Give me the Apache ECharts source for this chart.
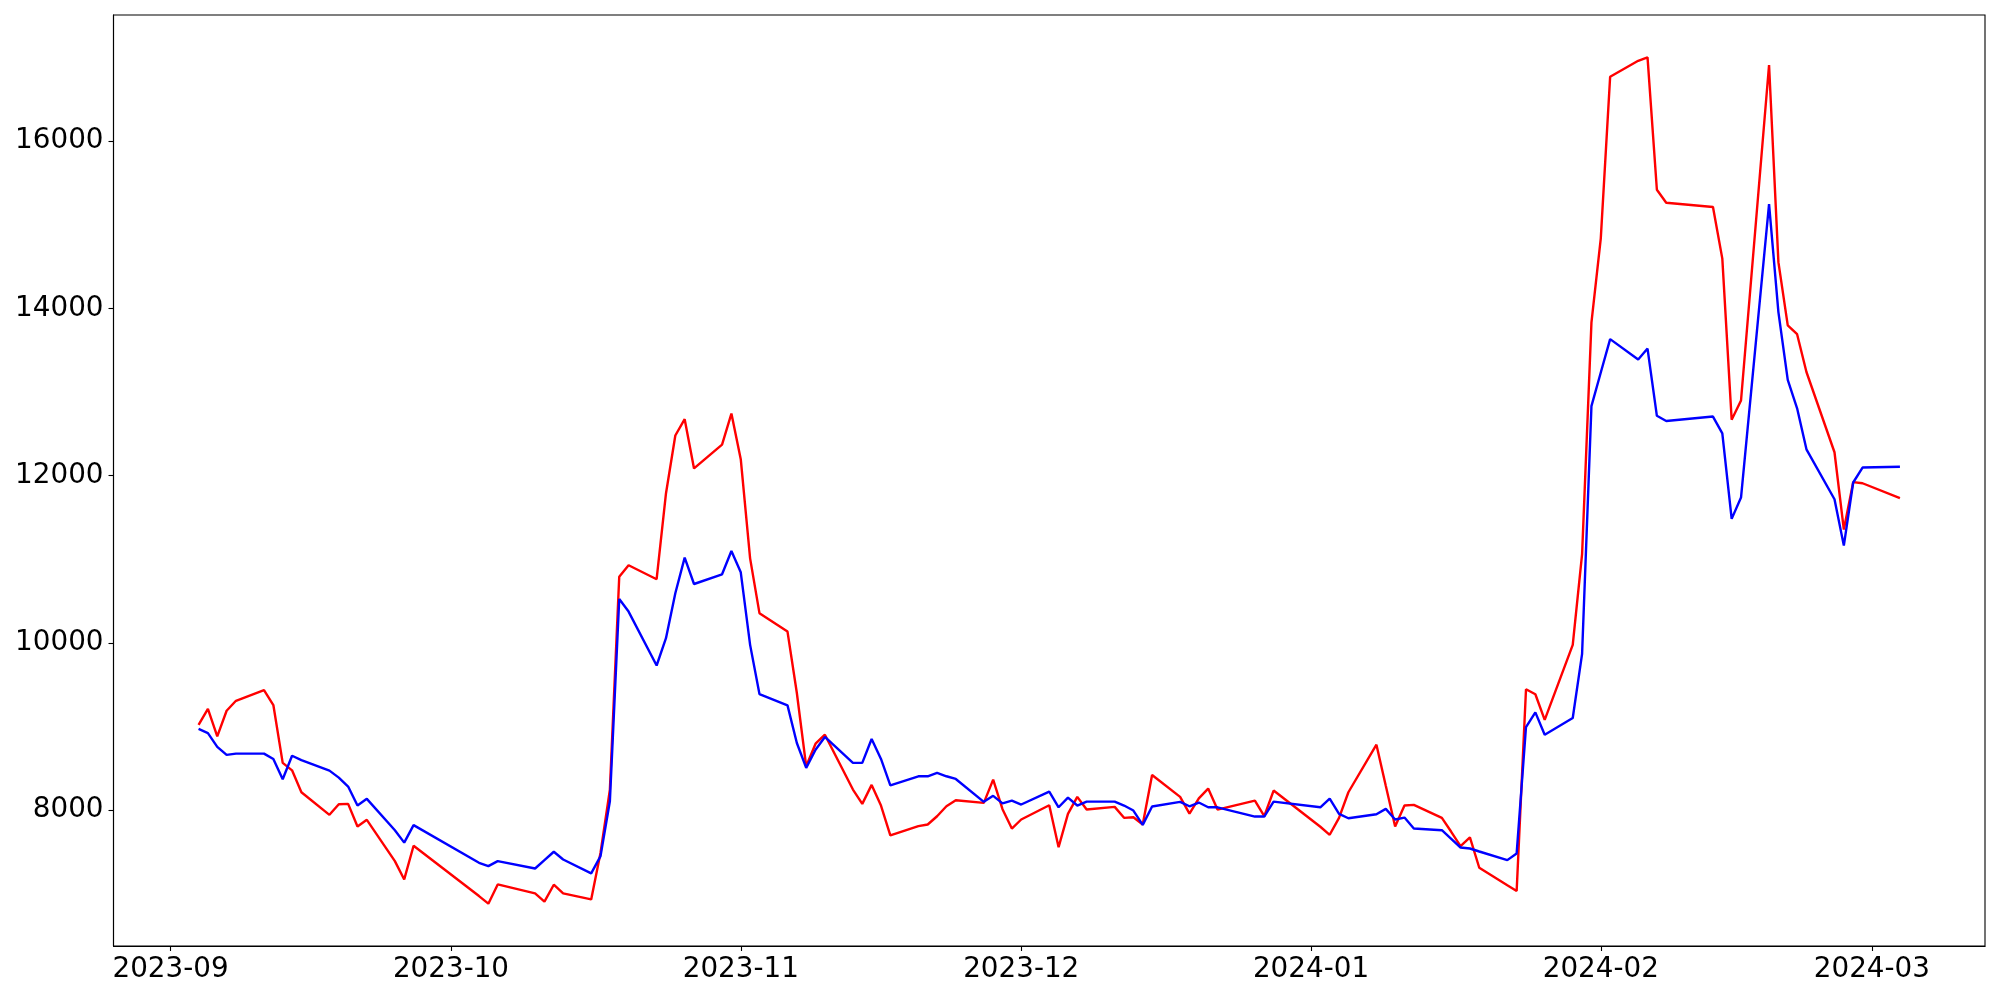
<!DOCTYPE html>
<html>
<head>
<meta charset="utf-8">
<script src="https://cdn.jsdelivr.net/npm/echarts@6/dist/echarts.min.js"></script>
<style>
  html, body { margin: 0; padding: 0; background: #ffffff; }
  #chart { width: 2000px; height: 1000px; }
</style>
</head>
<body>
<div id="chart"></div>
<script>
// ---- data (KRX trading days, Sep 2023 – Mar 2024) ----
const dates = [
  '2023-09-04','2023-09-05','2023-09-06','2023-09-07','2023-09-08','2023-09-11','2023-09-12','2023-09-13','2023-09-14','2023-09-15',
  '2023-09-18','2023-09-19','2023-09-20','2023-09-21','2023-09-22','2023-09-25','2023-09-26','2023-09-27',
  '2023-10-04','2023-10-05','2023-10-06','2023-10-10','2023-10-11','2023-10-12','2023-10-13','2023-10-16','2023-10-17','2023-10-18',
  '2023-10-19','2023-10-20','2023-10-23','2023-10-24','2023-10-25','2023-10-26','2023-10-27','2023-10-30','2023-10-31',
  '2023-11-01','2023-11-02','2023-11-03','2023-11-06','2023-11-07','2023-11-08','2023-11-09','2023-11-10','2023-11-13','2023-11-14',
  '2023-11-15','2023-11-16','2023-11-17','2023-11-20','2023-11-21','2023-11-22','2023-11-23','2023-11-24','2023-11-27','2023-11-28',
  '2023-11-29','2023-11-30',
  '2023-12-01','2023-12-04','2023-12-05','2023-12-06','2023-12-07','2023-12-08','2023-12-11','2023-12-12','2023-12-13','2023-12-14',
  '2023-12-15','2023-12-18','2023-12-19','2023-12-20','2023-12-21','2023-12-22','2023-12-26','2023-12-27','2023-12-28',
  '2024-01-02','2024-01-03','2024-01-04','2024-01-05','2024-01-08','2024-01-09','2024-01-10','2024-01-11','2024-01-12','2024-01-15',
  '2024-01-16','2024-01-17','2024-01-18','2024-01-19','2024-01-22','2024-01-23','2024-01-24','2024-01-25','2024-01-26','2024-01-29',
  '2024-01-30','2024-01-31',
  '2024-02-01','2024-02-02','2024-02-05','2024-02-06','2024-02-07','2024-02-08','2024-02-13','2024-02-14','2024-02-15','2024-02-16',
  '2024-02-19','2024-02-20','2024-02-21','2024-02-22','2024-02-23','2024-02-26','2024-02-27','2024-02-28','2024-02-29',
  '2024-03-04'
];

const redValues = [
  9020,9210,8881,9188,9307,9435,9256,8564,8475,8213,7943,8069,8074,7803,7883,7389,7170,7573,
  6971,6880,7110,7003,6904,7107,7003,6931,7489,8245,10790,10928,10761,11787,12480,12675,12086,12372,12743,
  12197,11011,10355,10135,9400,8523,8794,8901,8245,8074,8301,8054,7696,7807,7827,7926,8045,8117,8086,8364,8010,7779,
  7887,8057,7556,7955,8158,8006,8038,7907,7914,7827,8420,8158,7958,8140,8257,8006,8113,7926,8233,
  7800,7704,7907,8213,8782,8290,7803,8054,8062,7907,7740,7568,7672,7310,7100,7031,9445,9385,9078,9975,11060,13830,
  14839,16771,16962,17004,15420,15264,15214,14596,12669,12899,16912,14554,13798,13692,13240,12280,11355,11922,11909,
  11730
];

const blueValues = [
  8970,8920,8755,8660,8675,8675,8610,8368,8650,8597,8472,8388,8281,8054,8134,7759,7610,7820,
  7369,7329,7389,7301,7401,7501,7409,7242,7449,8105,10525,10374,9729,10056,10593,11019,10704,10820,11098,
  10844,9976,9387,9252,8802,8504,8722,8874,8564,8564,8850,8611,8296,8404,8404,8444,8404,8372,8098,8170,8080,8113,
  8066,8221,8033,8149,8054,8101,8101,8054,7994,7823,8042,8098,8045,8090,8033,8033,7922,7922,8101,
  8033,8137,7955,7902,7950,8014,7887,7910,7779,7759,7656,7552,7540,7504,7401,7481,8993,9168,8901,9101,9869,12831,
  13234,13633,13390,13520,12716,12654,12707,12506,11483,11738,15249,13957,13146,12805,12315,11718,11163,11918,12097,
  12107
];

const xTickLabels = ['2023-09','2023-10','2023-11','2023-12','2024-01','2024-02','2024-03'];
const yTicks = [8000, 10000, 12000, 14000, 16000];

// ---- helpers ----
function ts(s) {
  const p = s.split('-').map(Number);
  return Date.UTC(p[0], p[1] - 1, p[2] || 1);
}
const xFirst = ts(dates[0]);
const xLast = ts(dates[dates.length - 1]);
const xPad = (xLast - xFirst) * 0.05;
const allVals = redValues.concat(blueValues);
const yMinD = Math.min.apply(null, allVals);
const yMaxD = Math.max.apply(null, allVals);
const yPad = (yMaxD - yMinD) * 0.05;

const xTickValues = xTickLabels.map(l => ts(l + '-01'));
const labelMap = {};
xTickValues.forEach((v, i) => { labelMap[v] = xTickLabels[i]; });

const redData = dates.map((d, i) => [ts(d), redValues[i]]);
const blueData = dates.map((d, i) => [ts(d), blueValues[i]]);

const FONT = 'DejaVu Sans';
const chart = echarts.init(document.getElementById('chart'), null, { renderer: 'canvas' });
chart.setOption({
  animation: false,
  backgroundColor: '#ffffff',
  grid: {
    left: 113.5, right: 15, top: 15, bottom: 54,
    show: true, borderColor: '#000000', borderWidth: 1.1,
    outerBoundsMode: 'none'
  },
  xAxis: {
    type: 'value',
    min: xFirst - xPad,
    max: xLast + xPad,
    scale: true,
    splitLine: { show: false },
    axisLine: { show: true, lineStyle: { color: '#000000', width: 1.1 } },
    axisTick: { show: true, customValues: xTickValues, length: 5, lineStyle: { color: '#000000', width: 1.1 } },
    axisLabel: {
      customValues: xTickValues,
      formatter: v => labelMap[v] || '',
      color: '#000000', fontFamily: FONT, fontSize: 27.8, margin: 10
    }
  },
  yAxis: {
    type: 'value',
    min: yMinD - yPad,
    max: yMaxD + yPad,
    scale: true,
    splitLine: { show: false },
    axisLine: { show: true, lineStyle: { color: '#000000', width: 1.1 } },
    axisTick: { show: true, customValues: yTicks, length: 5, lineStyle: { color: '#000000', width: 1.1 } },
    axisLabel: {
      customValues: yTicks,
      formatter: v => String(v),
      color: '#000000', fontFamily: FONT, fontSize: 27.8, margin: 10
    }
  },
  series: [
    {
      type: 'line', data: redData, showSymbol: false, symbol: 'none', smooth: false,
      lineStyle: { color: '#ff0000', width: 2.4 }, itemStyle: { color: '#ff0000' }, silent: true, z: 2
    },
    {
      type: 'line', data: blueData, showSymbol: false, symbol: 'none', smooth: false,
      lineStyle: { color: '#0000ff', width: 2.4 }, itemStyle: { color: '#0000ff' }, silent: true, z: 3
    }
  ]
});
</script>
</body>
</html>
